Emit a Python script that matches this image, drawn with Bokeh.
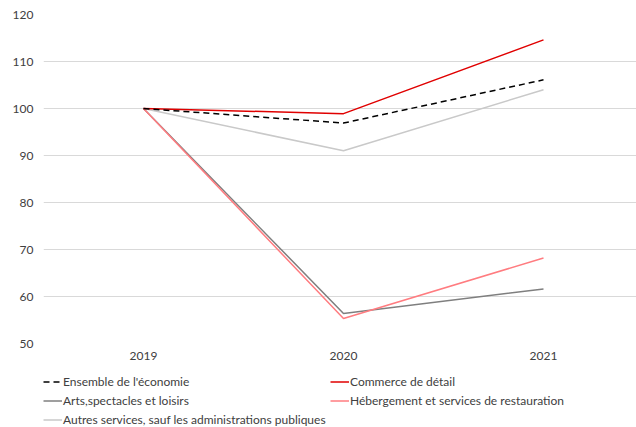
from bokeh.plotting import figure
from bokeh.models import Legend, LegendItem, Range1d, FixedTicker
from bokeh.layouts import column
from bokeh.embed import file_html
from bokeh.resources import INLINE

years = ["2019", "2020", "2021"]
ensemble = [100, 96.9, 106.1]
commerce = [100, 98.9, 114.6]
arts = [100, 56.4, 61.6]
hebergement = [100, 55.3, 68.2]
autres = [100, 91.0, 104.0]
y_ticks = [50, 60, 70, 80, 90, 100, 110, 120]

FONT = "Lato"
xs = list(range(len(years)))

p = figure(width=636, height=366, output_backend="svg", toolbar_location=None,
           x_range=Range1d(-0.5, 2.465), y_range=Range1d(50, 120),
           min_border_left=43, min_border_right=0, min_border_top=14, min_border_bottom=23)
p.outline_line_color = None
p.background_fill_color = "white"
p.border_fill_color = "white"

p.xgrid.grid_line_color = None
p.ygrid.grid_line_color = "#D9D9D9"
p.ygrid.grid_line_width = 1

p.xaxis.ticker = FixedTicker(ticks=xs)
p.xaxis.major_label_overrides = {i: y for i, y in enumerate(years)}
p.yaxis.ticker = FixedTicker(ticks=y_ticks)
for ax in (p.xaxis, p.yaxis):
    ax.axis_line_color = None
    ax.major_tick_line_color = None
    ax.minor_tick_line_color = None
    ax.major_tick_out = 0
    ax.major_tick_in = 0
    ax.major_label_text_font = FONT
    ax.major_label_text_font_size = "12px"
    ax.major_label_text_color = "#404040"
p.xaxis.major_label_standoff = 8
p.yaxis.major_label_standoff = 10

styles = {
    "aut": dict(line_color="#C9C9C9", line_width=1.5),
    "arts": dict(line_color="#7F7F7F", line_width=1.5),
    "heb": dict(line_color="#FF7C80", line_width=1.5),
    "com": dict(line_color="#E00000", line_width=1.5),
    "ens": dict(line_color="black", line_width=1.5, line_dash="6 4"),
}
p.line(xs, autres, **styles["aut"])
p.line(xs, arts, **styles["arts"])
p.line(xs, hebergement, **styles["heb"])
p.line(xs, commerce, **styles["com"])
p.line(xs, ensemble, **styles["ens"])

# Legend panel below the chart (proxy renderers carry only the line styles)
p2 = figure(width=636, height=61, output_backend="svg", toolbar_location=None,
            x_range=Range1d(0, 1), y_range=Range1d(0, 1),
            x_axis_type=None, y_axis_type=None,
            min_border_left=43, min_border_right=0, min_border_top=6, min_border_bottom=0)
p2.outline_line_color = None
p2.xgrid.grid_line_color = None
p2.ygrid.grid_line_color = None
nan = float("nan")
leg_r = {k: p2.line([nan, nan], [nan, nan], **s) for k, s in styles.items()}

items = [
    LegendItem(label="Ensemble de l'économie", renderers=[leg_r["ens"]]),
    LegendItem(label="Arts,spectacles et loisirs", renderers=[leg_r["arts"]]),
    LegendItem(label="Autres services, sauf les administrations publiques", renderers=[leg_r["aut"]]),
    LegendItem(label="Commerce de détail", renderers=[leg_r["com"]]),
    LegendItem(label="Hébergement et services de restauration", renderers=[leg_r["heb"]]),
]
legend = Legend(items=items, ncols=2, orientation="vertical",
                label_text_font=FONT, label_text_font_size="12px",
                label_text_color="#404040", glyph_width=19, glyph_height=19,
                label_standoff=1, spacing=0, padding=0, margin=0,
                label_width=267, label_height=19, border_line_color=None,
                background_fill_alpha=0, location="top_left")
p2.add_layout(legend, "center")

open("out.html", "w").write(file_html(column(p, p2, spacing=0), INLINE))
